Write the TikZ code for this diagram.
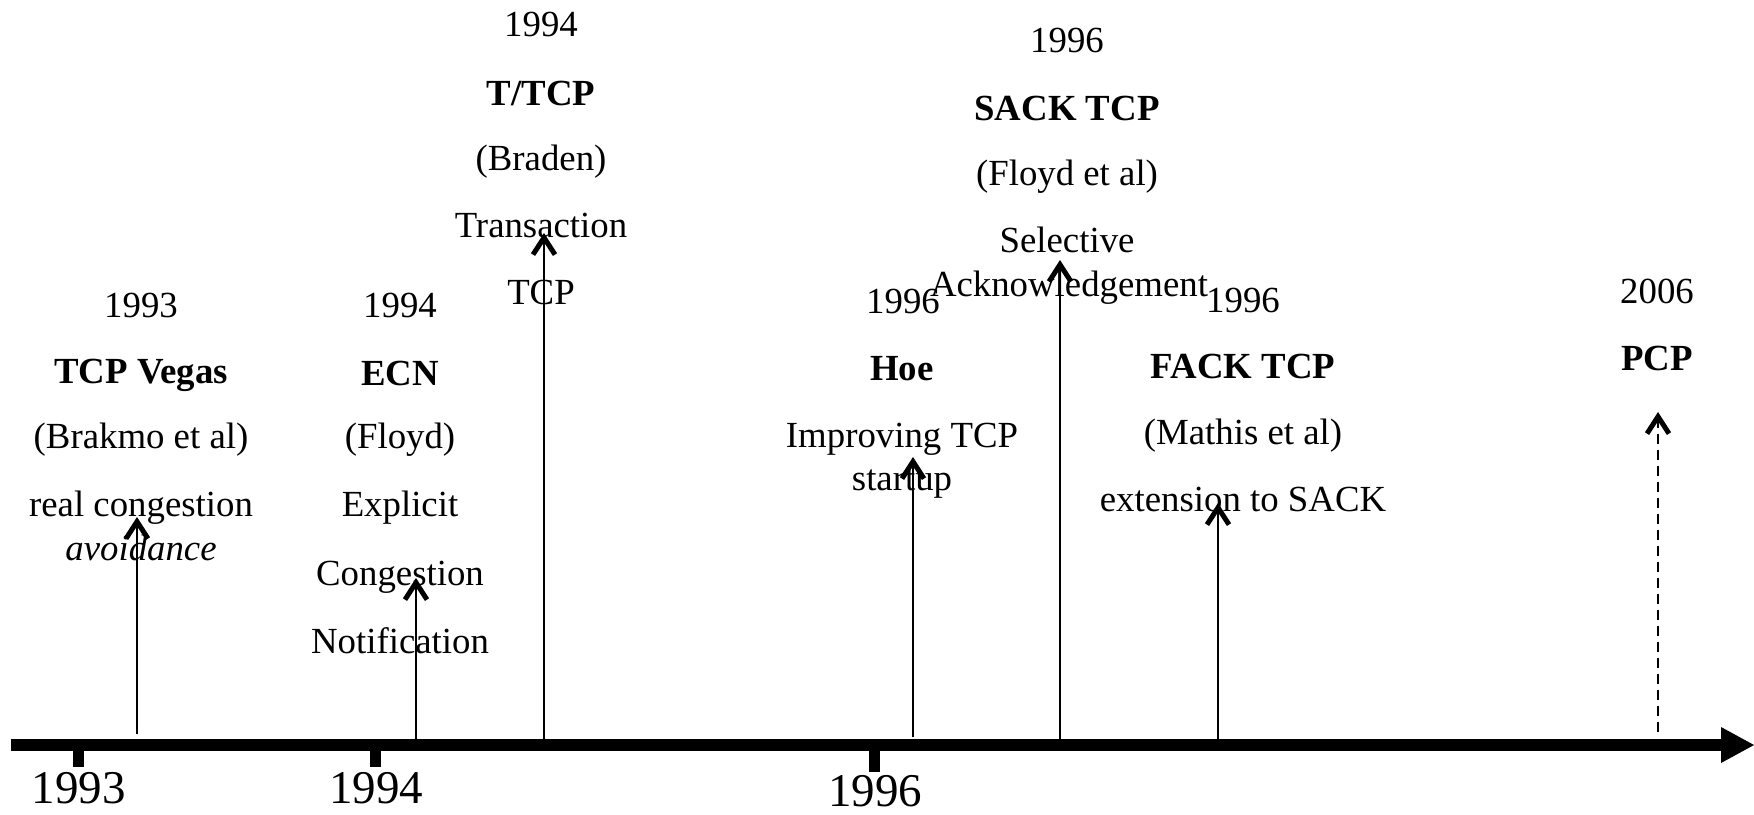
\documentclass[tikz,border=0pt]{standalone}
\usepackage{fontspec}
\setmainfont{Liberation Serif}
\usetikzlibrary{arrows.meta}

\tikzset{
  txt/.style={anchor=base, inner sep=0pt, font=\fontsize{18.4}{20}\selectfont},
  ttl/.style={anchor=base, inner sep=0pt, font=\fontsize{18.4}{20}\selectfont\bfseries},
  itl/.style={anchor=base, inner sep=0pt, font=\fontsize{18.4}{20}\selectfont\itshape},
  axisyr/.style={anchor=base, inner sep=0pt, font=\fontsize{23.5}{26}\selectfont},
  evt/.style={line width=1pt, -{Straight Barb[length=8.5pt, width=11pt, line width=2.5pt]}},
  evtfuture/.style={evt, dash pattern=on 5pt off 3pt},
  axisline/.style={line width=6pt},
}

\begin{document}
\begin{tikzpicture}[x=0.5pt, y=-0.5pt]
\useasboundingbox (0,0) rectangle (1754,814);

% time axis with its head
\coordinate (axisStart) at (11,745);
\coordinate (axisEnd) at (1722,745);
\coordinate (axisTip) at (1754,745);
\draw[axisline] (axisStart) -- (axisEnd);
\fill (1721,727) -- (axisTip) -- (1721,763) -- cycle;

% year ticks and labels under the axis
\fill (72.5,745) rectangle (83.5,767);
\fill (369.5,745) rectangle (380.5,767);
\fill (868.5,745) rectangle (879.5,772);
\node[axisyr] (y93) at (79,803) {1993};
\node[axisyr] (y94) at (376,803) {1994};
\node[axisyr] (y96) at (875,806) {1996};

% TCP Vegas
\node[txt] (vegasYear) at (141,317) {1993};
\node[ttl] (vegasName) at (141,383) {TCP Vegas};
\node[txt] (vegasAuth) at (141,448) {(Brakmo et al)};
\node[txt] (vegasDesc) at (141,516) {real congestion};
\node[itl] (vegasDescB) at (141,560) {avoidance};
\coordinate (vegasBase) at (137,734);
\coordinate (vegasTip) at (137,517);
\draw[evt] (vegasBase) -- (vegasTip);

% ECN
\node[txt] (ecnYear) at (400,317) {1994};
\node[ttl] (ecnName) at (400,385) {ECN};
\node[txt] (ecnAuth) at (400,448) {(Floyd)};
\node[txt] (ecnDescA) at (400,516) {Explicit};
\node[txt] (ecnDescB) at (400,585) {Congestion};
\node[txt] (ecnDescC) at (400,653) {Notification};
\coordinate (ecnBase) at (416,741);
\coordinate (ecnTip) at (416,578);
\draw[evt] (ecnBase) -- (ecnTip);

% T/TCP
\node[txt] (ttcpYear) at (541,36) {1994};
\node[ttl] (ttcpName) at (541,105) {T/TCP};
\node[txt] (ttcpAuth) at (541,170) {(Braden)};
\node[txt] (ttcpDescA) at (541,237) {Transaction};
\node[txt] (ttcpDescB) at (541,304) {TCP};
\coordinate (ttcpBase) at (544,741);
\coordinate (ttcpTip) at (544,233);
\draw[evt] (ttcpBase) -- (ttcpTip);

% Hoe
\node[txt] (hoeYear) at (903,313) {1996};
\node[ttl] (hoeName) at (902,380) {Hoe};
\node[txt] (hoeDescA) at (902,447) {Improving TCP};
\node[txt] (hoeDescB) at (902,490) {startup};
\coordinate (hoeBase) at (913,737);
\coordinate (hoeTip) at (913,457);
\draw[evt] (hoeBase) -- (hoeTip);

% SACK TCP
\node[txt] (sackYear) at (1067,52) {1996};
\node[ttl] (sackName) at (1067,120) {SACK TCP};
\node[txt] (sackAuth) at (1067,185) {(Floyd et al)};
\node[txt] (sackDescA) at (1067,252) {Selective};
\node[txt] (sackDescB) at (1069,296) {Acknowledgement};
\coordinate (sackBase) at (1060,741);
\coordinate (sackTip) at (1060,260);
\draw[evt] (sackBase) -- (sackTip);

% FACK TCP
\node[txt] (fackYear) at (1243,312) {1996};
\node[ttl] (fackName) at (1243,378) {FACK TCP};
\node[txt] (fackAuth) at (1243,444) {(Mathis et al)};
\node[txt] (fackDesc) at (1243,511) {extension to SACK};
\coordinate (fackBase) at (1218,741);
\coordinate (fackTip) at (1218,503);
\draw[evt] (fackBase) -- (fackTip);

% PCP
\node[txt] (pcpYear) at (1657,303) {2006};
\node[ttl] (pcpName) at (1657,370) {PCP};
\coordinate (pcpBase) at (1658,732);
\coordinate (pcpTip) at (1658,412);
\draw[evtfuture] (pcpBase) -- (pcpTip);

\end{tikzpicture}
\end{document}
